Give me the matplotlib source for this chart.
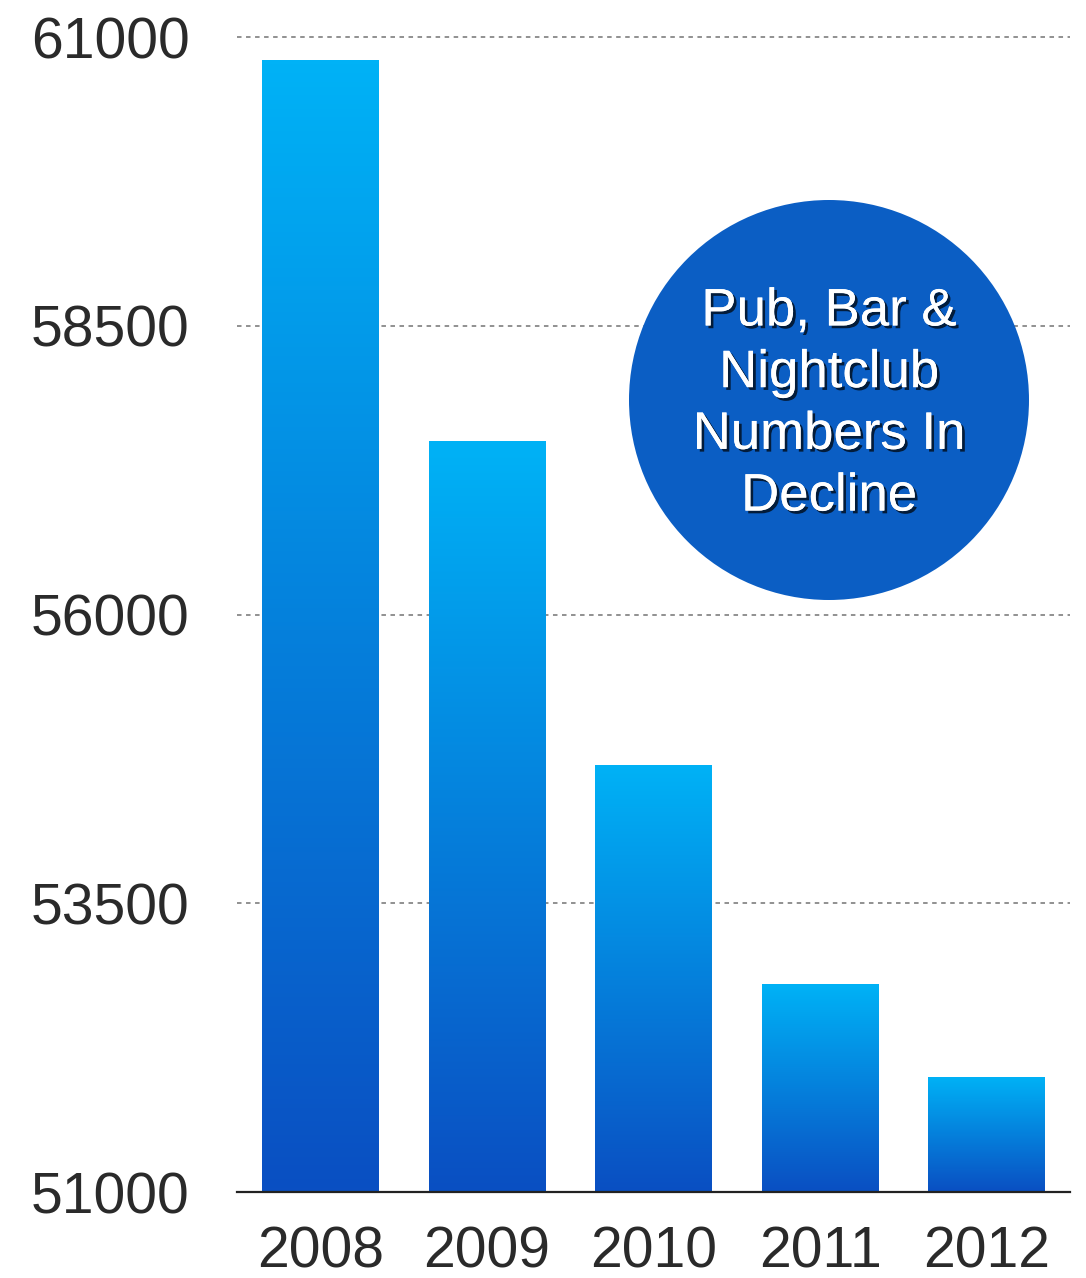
import matplotlib
matplotlib.use("Agg")
import matplotlib.pyplot as plt
import numpy as np
from matplotlib.patches import Ellipse
import matplotlib.patheffects as pe
from matplotlib.colors import LinearSegmentedColormap

years = ["2008", "2009", "2010", "2011", "2012"]
values = [60800, 57500, 54700, 52800, 52000]
yticks = [51000, 53500, 56000, 58500, 61000]
badge_text = "Pub, Bar &\nNightclub\nNumbers In\nDecline"

plt.rcParams['font.family'] = ['Liberation Sans', 'DejaVu Sans']

fig = plt.figure(figsize=(10.86, 12.78), dpi=100)
ax = fig.add_axes([237/1086, 1-1192/1278, (1070-237)/1086, (1192-37)/1278])
ax.set_xlim(-0.5, 4.5)
ax.set_ylim(51000, 61000)

cmap = LinearSegmentedColormap.from_list("g", ["#0a4fc2", "#00b2f6"])
grad = np.linspace(0, 1, 256).reshape(-1, 1)
x = np.arange(len(years))
bars = ax.bar(x, values, width=0.7, color="none", edgecolor="none", bottom=0)
for b, v in zip(bars, values):
    x0 = b.get_x(); w = b.get_width()
    im = ax.imshow(grad, cmap=cmap, aspect="auto", origin="lower",
                   extent=[x0, x0 + w, 51000, v], zorder=2)
    im.set_clip_path(b)

ax.set_xlim(-0.5, 4.5)
ax.set_ylim(51000, 61000)
ax.set_yticks(yticks)
ax.set_yticklabels([str(t) for t in yticks])
ax.set_xticks(x)
ax.set_xticklabels(years)
ax.tick_params(axis="both", length=0, labelsize=41, colors="#2a2a2a")
ax.tick_params(axis="y", pad=34)
ax.tick_params(axis="x", pad=24)
for s in ["top", "right", "left"]:
    ax.spines[s].set_visible(False)
ax.spines["bottom"].set_linewidth(1.6)
ax.spines["bottom"].set_color("#222222")
ax.spines["bottom"].set_zorder(5)
ax.yaxis.grid(True, linestyle=(0, (2.5, 2.5)), color="#888888", linewidth=1.3)
ax.set_axisbelow(True)
for gl in ax.get_ygridlines():
    gl.set_clip_on(False)

cx, cy, r = 829, 400, 200
circ = Ellipse((cx/1086, 1-cy/1278), 2*r/1086, 2*r/1278, transform=fig.transFigure,
               facecolor="#0b5ec4", edgecolor="none", zorder=10)
fig.add_artist(circ)
fig.text(cx/1086, 1-404/1278, badge_text, ha="center", va="center", fontsize=38,
         color="white", linespacing=1.3, zorder=11,
         path_effects=[pe.withSimplePatchShadow(offset=(2, -2), shadow_rgbFace="#000000", alpha=0.7), pe.Normal()])

fig.savefig("out.png", dpi=100)
